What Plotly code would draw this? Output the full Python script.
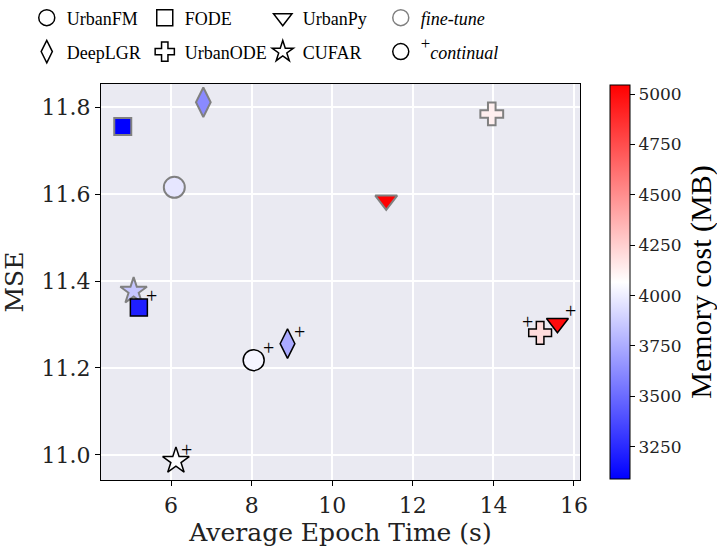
import plotly.graph_objects as go

# ---------------- data ----------------
methods = ["UrbanFM", "DeepLGR", "FODE", "UrbanODE", "UrbanPy", "CUFAR"]

ft_time = [6.08, 6.80, 4.80, 13.96, 11.34, 5.07]
ft_mse = [11.616, 11.812, 11.756, 11.785, 11.586, 11.377]
ft_mem = [3970, 3620, 3090, 4130, 5045, 3850]

cl_time = [8.05, 8.89, 5.20, 15.16, 15.59, 6.12]
cl_mse = [11.218, 11.256, 11.339, 11.281, 11.303, 10.986]
cl_mem = [4030, 3740, 3210, 4200, 5000, 4065]

x_ticks = [6, 8, 10, 12, 14, 16]
y_ticks = [11.0, 11.2, 11.4, 11.6, 11.8]
cb_ticks = [3250, 3500, 3750, 4000, 4250, 4500, 4750, 5000]

# ---------------- styles ----------------
symbols = ["circle", "diamond-tall", "square", "cross", "triangle-down", "star"]
sizes = [21, 21, 17, 19, 19, 20]
plus_dx = [15, 12, 13, -13, 13, 11]
plus_dy = [12, 12, 12, 11, 12, 11]

bwr = [[0.0, "rgb(0,0,255)"], [0.5, "rgb(255,255,255)"], [1.0, "rgb(255,0,0)"]]
cmin, cmax = min(ft_mem + cl_mem), max(ft_mem + cl_mem)

SERIF = "DejaVu Serif"
TIMES = "Liberation Serif"

fig = go.Figure()

fig.add_trace(go.Scatter(
    x=ft_time, y=ft_mse, mode="markers", showlegend=False, hoverinfo="skip",
    marker=dict(symbol=symbols, size=sizes, color=ft_mem, colorscale=bwr,
                cmin=cmin, cmax=cmax, opacity=1,
                line=dict(color="#808080", width=2),
                showscale=True,
                colorbar=dict(
                    thickness=20, thicknessmode="pixels",
                    len=394, lenmode="pixels",
                    x=1.0626, xanchor="left", xpad=0,
                    y=0.5, yanchor="middle", ypad=0,
                    outlinecolor="black", outlinewidth=1,
                    ticks="outside", ticklen=5, tickcolor="black",
                    tickvals=cb_ticks,
                    tickfont=dict(family=SERIF, size=17, color="#222"),
                    title=dict(text="Memory cost (MB)", side="right",
                               font=dict(family=TIMES, size=30, color="black")),
                )),
))

fig.add_trace(go.Scatter(
    x=cl_time, y=cl_mse, mode="markers", showlegend=False, hoverinfo="skip",
    marker=dict(symbol=symbols, size=sizes, color=cl_mem, colorscale=bwr,
                cmin=cmin, cmax=cmax, opacity=1,
                line=dict(color="black", width=1.5)),
))

for xv, yv, dx, dy in zip(cl_time, cl_mse, plus_dx, plus_dy):
    fig.add_annotation(x=xv, y=yv, text="+", showarrow=False,
                       xshift=dx, yshift=dy,
                       font=dict(family=TIMES, size=20, color="black"))

# legend rows
row1 = [("UrbanFM", "circle", "black"), ("FODE", "square", "black"),
        ("UrbanPy", "triangle-down", "black"), ("<i>fine-tune</i>", "circle", "#808080")]
row2 = [("DeepLGR", "diamond-tall", "black"), ("UrbanODE", "cross", "black"),
        ("CUFAR", "star", "black"),
        ("<span style='font-size:24px'><sup>+</sup></span><i>continual</i>", "circle", "black")]

for lg, row in (("legend", row1), ("legend2", row2)):
    for name, sym, col in row:
        fig.add_trace(go.Scatter(
            x=[None], y=[None], mode="markers", name=name, legend=lg,
            marker=dict(symbol=sym, size=16, color="rgba(0,0,0,0)",
                        line=dict(color=col, width=1.5))))

legend_common = dict(orientation="h", xanchor="left", x=-0.155,
                     yanchor="middle", entrywidth=73, bgcolor="rgba(0,0,0,0)",
                     font=dict(family=TIMES, size=18, color="black"))

fig.update_layout(
    width=717, height=553,
    margin=dict(l=101, r=137, t=84, b=73, autoexpand=False),
    paper_bgcolor="white", plot_bgcolor="#EAEAF2",
    hovermode=False,
    legend=dict(y=1.1667, **legend_common),
    legend2=dict(y=1.081, **legend_common),
    xaxis=dict(range=[4.26, 16.15], tickvals=x_ticks,
               showline=True, linecolor="black", linewidth=1.2, mirror=True,
               ticks="outside", ticklen=5, tickcolor="black",
               gridcolor="white", gridwidth=1.5, zeroline=False,
               automargin=True,
               tickfont=dict(family=SERIF, size=22, color="#222"),
               title=dict(text="Average Epoch Time (s)", standoff=4,
                          font=dict(family=SERIF, size=25, color="#222"))),
    yaxis=dict(range=[10.942, 11.854], tickvals=y_ticks, tickformat=".1f",
               showline=True, linecolor="black", linewidth=1.2, mirror=True,
               ticks="outside", ticklen=5, tickcolor="black",
               gridcolor="white", gridwidth=1.5, zeroline=False,
               tickfont=dict(family=SERIF, size=22, color="#222"),
               title=dict(text="MSE",
                          font=dict(family=SERIF, size=25, color="#222"))),
)

fig.write_html("out.html", config={"displayModeBar": False},
               post_script="document.body.style.margin='0px';document.body.style.overflow='hidden';")
